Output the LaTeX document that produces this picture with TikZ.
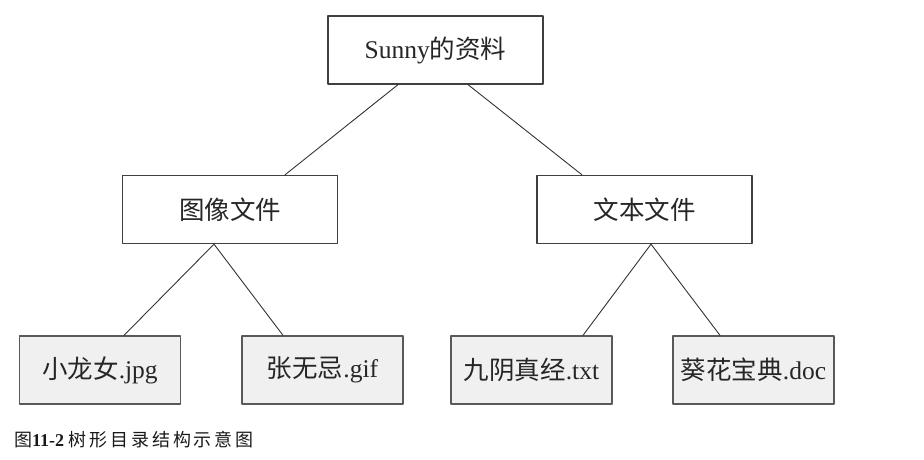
\documentclass[tikz,border=0pt]{standalone}
\usepackage{fontspec}
\setmainfont{Liberation Serif}
\newfontfamily\cjk{Noto Sans CJK SC}
\newfontfamily\cjkwide[LetterSpace=16]{Noto Sans CJK SC}
\usetikzlibrary{positioning}

\begin{document}
\begin{tikzpicture}[x=1pt, y=-1pt, line cap=round, line join=round,
    dirbox/.style={draw=black!75, line width=1.3pt, fill=white, inner sep=0pt,
        minimum width=215pt, minimum height=68pt, text=black!85,
        font=\fontsize{25.5}{29}\selectfont},
    filebox/.style={dirbox, draw=black!65, fill=black!6, minimum width=161pt},
    link/.style={black!80, line width=0.9pt}]

\useasboundingbox (0,0) rectangle (924,460);

% folders
\node[dirbox] (root) at (435.5,50) {Sunny{\cjk 的资料}};
\node[dirbox] (img) at (230,209.5) {\cjk 图像文件};
\node[dirbox] (txt) at (644.5,209.5) {\cjk 文本文件};

% files
\node[filebox] (xln) at (100,370) {{\cjk 小龙女}.jpg};
\node[filebox] (zwj) at (322.5,370) {{\cjk 张无忌}.gif};
\node[filebox] (jyz) at (531.5,370) {{\cjk 九阴真经}.txt};
\node[filebox] (khb) at (753.5,370) {{\cjk 葵花宝典}.doc};

\draw[link]
    ([xshift=-37.5pt]root.south) -- ([xshift=55pt]img.north)
    ([xshift=32.5pt]root.south) -- ([xshift=-62.5pt]txt.north)
    ([xshift=-16pt]img.south) -- ([xshift=24pt]xln.north)
    ([xshift=-16pt]img.south) -- ([xshift=-39.5pt]zwj.north)
    ([xshift=6.5pt]txt.south) -- ([xshift=51.5pt]jyz.north)
    ([xshift=6.5pt]txt.south) -- ([xshift=-33.5pt]khb.north);

\node[anchor=west, inner sep=0pt, text=black!90, font=\fontsize{18}{20}\selectfont]
    (caption) at (14,440) {{\cjk 图}\textbf{11-2} {\cjkwide 树形目录结构示意图}};

\end{tikzpicture}
\end{document}
